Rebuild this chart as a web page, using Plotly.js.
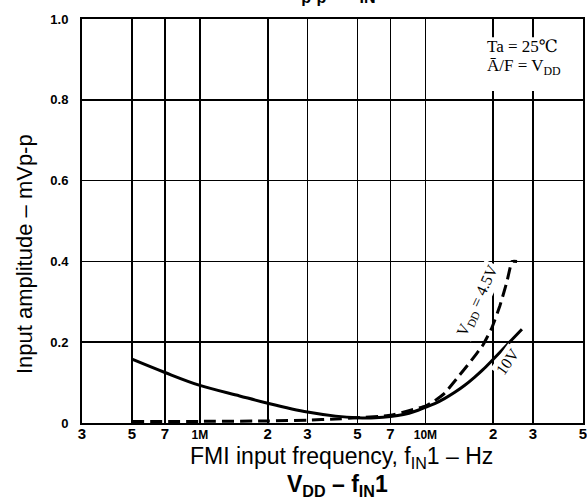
<!DOCTYPE html>
<html>
<head>
<meta charset="utf-8">
<script src="https://cdn.plot.ly/plotly-3.0.1.min.js"></script>
<style>html,body{margin:0;padding:0;background:#fff;}#chart{width:587px;height:497px;}</style>
</head>
<body>
<div id="chart"></div>
<script>
// Data
const freq10V = [5e5, 7e5, 1e6, 1.5e6, 2e6, 3e6, 4e6, 5e6, 6e6, 7e6, 8e6, 9e6, 1e7, 1.1e7, 1.22e7, 1.35e7, 1.5e7, 1.65e7, 1.8e7, 2e7, 2.2e7, 2.4e7, 2.68e7];
const amp10V  = [0.158, 0.125, 0.093, 0.067, 0.049, 0.027, 0.017, 0.013, 0.013, 0.016, 0.021, 0.029, 0.039, 0.048, 0.061, 0.076, 0.094, 0.113, 0.132, 0.158, 0.182, 0.204, 0.232];

const freq45V = [5e5, 1e6, 2e6, 3e6, 4e6, 5e6, 7e6, 1e7, 1.1e7, 1.22e7, 1.42e7, 1.58e7, 1.8e7, 1.97e7, 2.14e7, 2.3e7, 2.42e7, 2.55e7];
const amp45V  = [0.004, 0.004, 0.005, 0.007, 0.01, 0.013, 0.019, 0.042, 0.055, 0.074, 0.119, 0.151, 0.193, 0.235, 0.29, 0.35, 0.40, 0.40];

const xTickVals = [3e5, 5e5, 7e5, 1e6, 2e6, 3e6, 5e6, 7e6, 1e7, 2e7, 3e7, 5e7];
const xTickText = ['3', '5', '7', '<span style="font-size:12px">1M</span>', '2', '3', '5', '7', '<span style="font-size:12px">10M</span>', '2', '3', '5'];
const yTickVals = [0, 0.2, 0.4, 0.6, 0.8, 1.0];
const yTickText = ['0', '0.2', '0.4', '0.6', '0.8', '1.0'];

const traces = [
  {x: freq10V, y: amp10V, type: 'scatter', mode: 'lines', line: {color: '#000', width: 3, shape: 'spline', smoothing: 1}, hoverinfo: 'skip'},
  {x: freq45V, y: amp45V, type: 'scatter', mode: 'lines', line: {color: '#000', width: 3, dash: '12px,6px', shape: 'spline', smoothing: 0.3}, hoverinfo: 'skip'}
];

const serif = 'Liberation Serif, DejaVu Serif, serif';
const sans = 'Liberation Sans, Arial, sans-serif';

const layout = {
  width: 587, height: 497,
  margin: {l: 82, r: 4, t: 19, b: 74, pad: 0},
  paper_bgcolor: '#fff', plot_bgcolor: '#fff',
  showlegend: false,
  xaxis: {
    type: 'log',
    range: [Math.log10(3e5), Math.log10(5e7)],
    tickmode: 'array', tickvals: xTickVals, ticktext: xTickText,
    ticks: '', showgrid: true, gridcolor: '#000', gridwidth: 1.6,
    showline: true, linecolor: '#000', linewidth: 2, mirror: true,
    tickfont: {family: sans, size: 15, color: '#000', weight: 'bold'},
    ticklabelstandoff: -4, ticklabeloverflow: 'allow',
    zeroline: false, fixedrange: true
  },
  yaxis: {
    range: [0, 1],
    tickmode: 'array', tickvals: yTickVals, ticktext: yTickText,
    ticks: '', showgrid: true, gridcolor: '#000', gridwidth: 1.6,
    showline: true, linecolor: '#000', linewidth: 2, mirror: true,
    tickfont: {family: sans, size: 13, color: '#000', weight: 'bold'},
    ticklabelstandoff: 9,
    zeroline: false, fixedrange: true
  },
  shapes: [
    {type: 'rect', xref: 'paper', yref: 'paper', x0: 0.794, x1: 0.995, y0: 0.822, y1: 0.955,
     fillcolor: '#fff', line: {width: 0}, layer: 'above'}
  ],
  annotations: [
    {xref: 'paper', yref: 'paper', x: 0.51, y: 1.026, xanchor: 'center', yanchor: 'bottom', showarrow: false,
     text: 'V<sub>p-p</sub> – f<sub>IN</sub>1', font: {family: sans, size: 23, color: '#000', weight: 'bold'}},
    {xref: 'paper', yref: 'paper', x: 0.804, y: 0.931, xanchor: 'left', yanchor: 'middle', showarrow: false,
     text: 'Ta = 25℃', font: {family: serif, size: 17, color: '#000'}},
    {xref: 'paper', yref: 'paper', x: 0.804, y: 0.881, xanchor: 'left', yanchor: 'middle', showarrow: false,
     text: 'Ā/F = V<sub>DD</sub>', font: {family: serif, size: 17, color: '#000'}},
    {xref: 'paper', yref: 'paper', x: 0.79, y: 0.304, xanchor: 'center', yanchor: 'middle', showarrow: false,
     textangle: -65, bgcolor: '#fff', borderpad: 1,
     text: 'V<sub>DD</sub> = 4.5V', font: {family: serif, size: 16, color: '#000'}},
    {xref: 'paper', yref: 'paper', x: 0.85, y: 0.151, xanchor: 'center', yanchor: 'middle', showarrow: false,
     textangle: -55, bgcolor: '#fff', borderpad: 1,
     text: '10V', font: {family: serif, size: 16, color: '#000'}},
    {xref: 'paper', yref: 'paper', x: 0.517, y: -0.086, xanchor: 'center', yanchor: 'middle', showarrow: false,
     text: 'FMI input frequency, f<sub>IN</sub>1 – Hz', font: {family: sans, size: 23, color: '#000'}},
    {xref: 'paper', yref: 'paper', x: 0.509, y: -0.155, xanchor: 'center', yanchor: 'middle', showarrow: false,
     text: 'V<sub>DD</sub> – f<sub>IN</sub>1', font: {family: sans, size: 23, color: '#000', weight: 'bold'}},
    {xref: 'paper', yref: 'paper', x: -0.116, y: 0.418, xanchor: 'center', yanchor: 'middle', showarrow: false,
     textangle: -90,
     text: 'Input amplitude – mVp-p', font: {family: sans, size: 22, color: '#000'}}
  ]
};

Plotly.newPlot('chart', traces, layout, {displayModeBar: false, staticPlot: true});
</script>
</body>
</html>
